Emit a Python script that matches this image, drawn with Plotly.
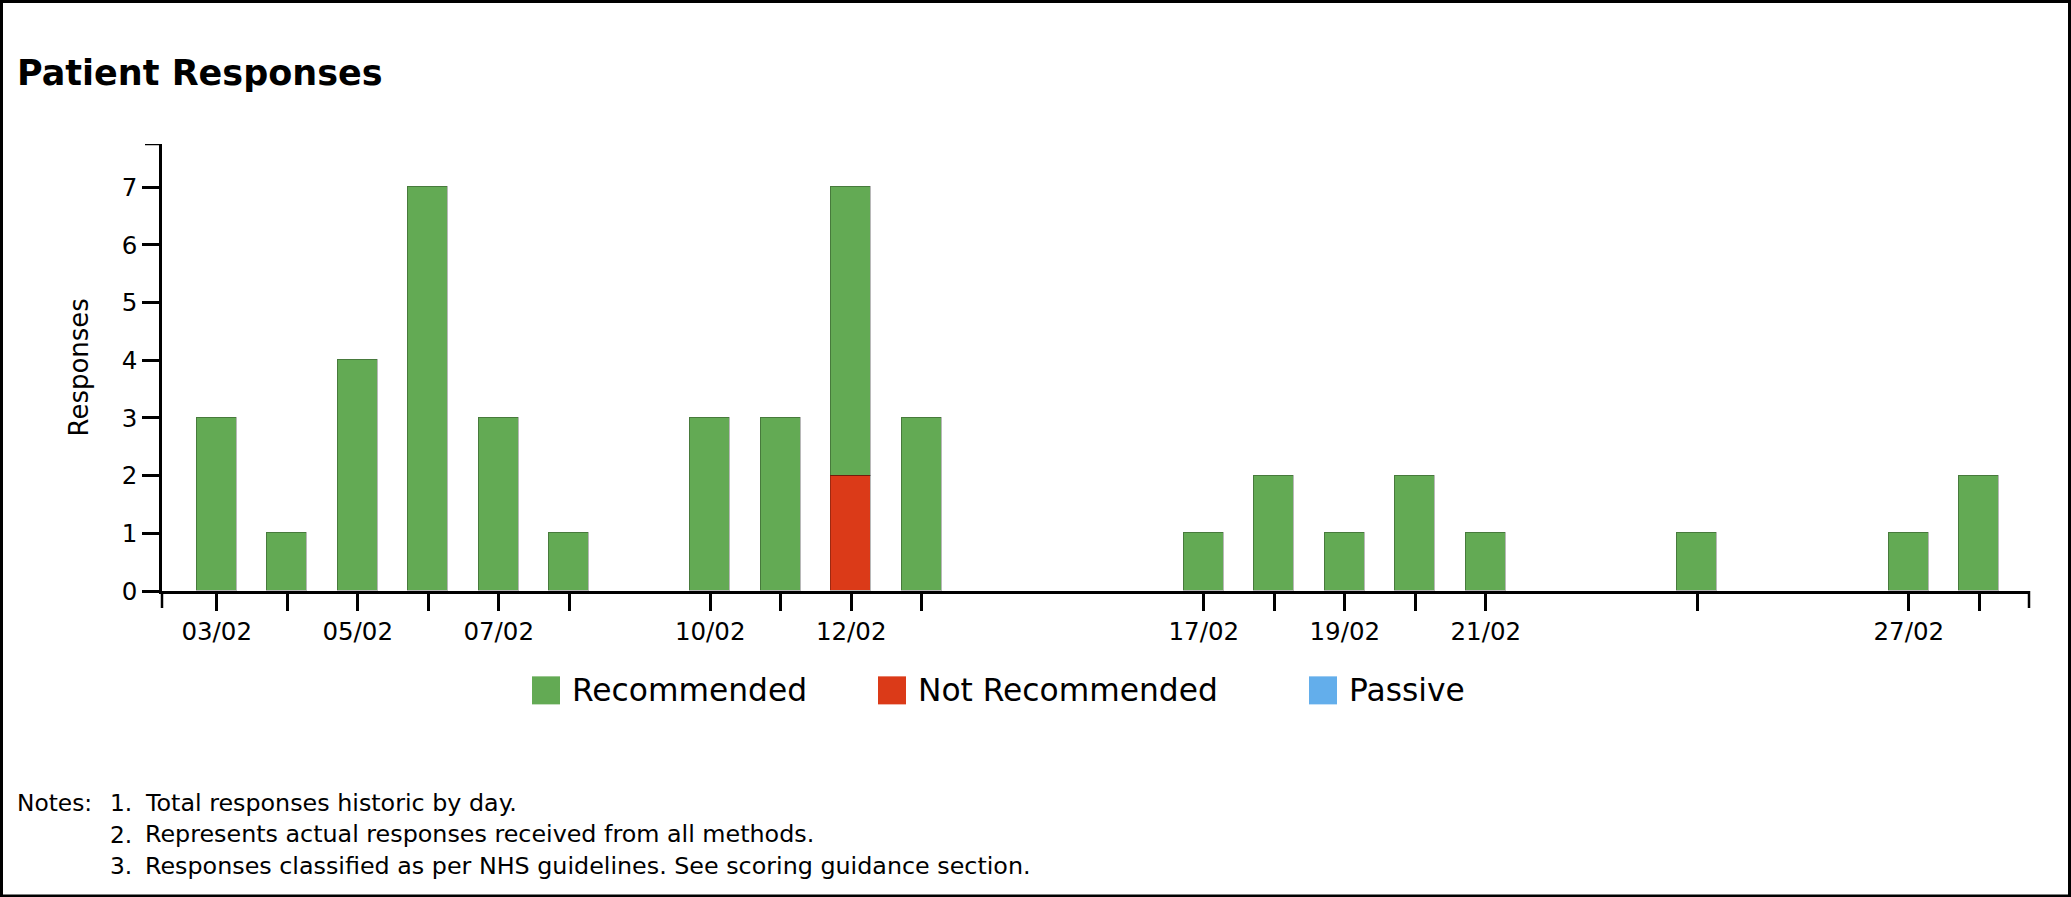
import plotly.graph_objects as go

# ---------------- data ----------------
dates = ["2025-02-03", "2025-02-04", "2025-02-05", "2025-02-06", "2025-02-07",
         "2025-02-08", "2025-02-10", "2025-02-11", "2025-02-12", "2025-02-13",
         "2025-02-17", "2025-02-18", "2025-02-19", "2025-02-20", "2025-02-21",
         "2025-02-24", "2025-02-27", "2025-02-28"]
tick_labels = ["03/02", "", "05/02", "", "07/02", "", "10/02", "", "12/02", "",
               "17/02", "", "19/02", "", "21/02", "", "27/02", ""]
recommended = [3, 1, 4, 7, 3, 1, 3, 3, 5, 3, 1, 2, 1, 2, 1, 1, 1, 2]
not_recommended = [0, 0, 0, 0, 0, 0, 0, 0, 2, 0, 0, 0, 0, 0, 0, 0, 0, 0]
passive = [0, 0, 0, 0, 0, 0, 0, 0, 0, 0, 0, 0, 0, 0, 0, 0, 0, 0]
series_names = ["Recommended", "Not Recommended", "Passive"]
y_ticks = [0, 1, 2, 3, 4, 5, 6, 7]
title_text = "Patient Responses"
y_title = "Responses"
notes_label = "Notes:"
notes = ["Total responses historic by day.",
         "Represents actual responses received from all methods.",
         "Responses classified as per NHS guidelines. See scoring guidance section."]

# ---------------- style ----------------
W, H = 2071, 897
L, R, T, B = 162, 2029, 144, 590.7
PW, PH = R - L, B - T
FONT = "DejaVu Sans"
colors = {"Recommended": "#63AA54", "Not Recommended": "#DB3A18", "Passive": "#63AEEB"}
bar_width_ms = 0.567 * 86400000
x_range = ["2025-02-02 05:23", "2025-02-28 16:55"]
y_range = [0, 7.75]


def px(xp):
    return (xp - L) / PW


def py(yp):
    return (B - yp) / PH


def nz(vals):
    return [v if v else None for v in vals]


fig = go.Figure()
series = {"Recommended": recommended, "Not Recommended": not_recommended, "Passive": passive}
for name in ["Not Recommended", "Passive", "Recommended"]:
    fig.add_trace(go.Bar(
        x=dates, y=nz(series[name]), name=name, width=bar_width_ms,
        marker=dict(color=colors[name], line=dict(color="rgba(0,0,0,0.28)", width=1.5)),
        showlegend=False,
    ))

shapes = []
annotations = []

# end ticks on axes
tick_style = dict(color="black", width=2.5)
shapes.append(dict(type="line", xref="paper", yref="paper", x0=0, x1=0,
                   ysizemode="pixel", yanchor=0, y0=0, y1=-17, line=tick_style))
shapes.append(dict(type="line", xref="paper", yref="paper", x0=1, x1=1,
                   ysizemode="pixel", yanchor=0, y0=0, y1=-17, line=tick_style))
shapes.append(dict(type="line", xref="paper", yref="y", y0=y_range[1], y1=y_range[1],
                   xsizemode="pixel", xanchor=0, x0=0, x1=-17, line=tick_style))

# border
shapes.append(dict(type="rect", xref="paper", yref="paper",
                   x0=px(1.5), x1=px(W - 1.5), y0=py(H - 1.5), y1=py(1.5),
                   line=dict(color="black", width=3), fillcolor="rgba(0,0,0,0)", layer="above"))

# manual legend
legend_sq_x = [532, 878, 1309]
legend_y = 690
for i, name in enumerate(series_names):
    x0 = legend_sq_x[i]
    shapes.append(dict(type="rect", xref="paper", yref="paper",
                       x0=px(x0), x1=px(x0 + 28), y0=py(legend_y + 14), y1=py(legend_y - 14),
                       line=dict(width=0), fillcolor=colors[name]))
    annotations.append(dict(text=name, xref="paper", yref="paper",
                            x=px(x0 + 38), y=py(legend_y), xanchor="left", yanchor="middle",
                            showarrow=False, font=dict(family=FONT, size=31.3, color="black")))

# y-axis title
annotations.append(dict(text=y_title, xref="paper", yref="paper", x=px(78), y=0.5,
                        textangle=-90, showarrow=False, xanchor="center", yanchor="middle",
                        font=dict(family=FONT, size=26, color="black")))

# notes
note_ys = [802.5, 834, 865.5]
annotations.append(dict(text=notes_label, xref="paper", yref="paper", x=px(15), y=py(note_ys[0]),
                        xanchor="left", yanchor="middle", showarrow=False,
                        font=dict(family=FONT, size=23.3, color="black")))
for i, note in enumerate(notes):
    annotations.append(dict(text=f"{i + 1}.", xref="paper", yref="paper", x=px(108), y=py(note_ys[i]),
                            xanchor="left", yanchor="middle", showarrow=False,
                            font=dict(family=FONT, size=23.3, color="black")))
    annotations.append(dict(text=note, xref="paper", yref="paper", x=px(143), y=py(note_ys[i]),
                            xanchor="left", yanchor="middle", showarrow=False,
                            font=dict(family=FONT, size=23.8, color="black")))

fig.update_layout(
    width=W, height=H, autosize=False,
    margin=dict(l=L, r=W - R, t=T, b=H - B, pad=0),
    paper_bgcolor="white", plot_bgcolor="white",
    barmode="stack", bargap=0,
    font=dict(family=FONT, color="black"),
    title=dict(text=f"<b>{title_text}</b>", xref="container", yref="container",
               x=17 / W, xanchor="left", y=1 - 73 / H, yanchor="middle",
               font=dict(family=FONT, size=35, color="black")),
    xaxis=dict(type="date", range=x_range, tickmode="array", tickvals=dates, ticktext=tick_labels,
               ticks="outside", ticklen=17, tickwidth=2.5, tickcolor="black",
               showline=True, linecolor="black", linewidth=2.5, showgrid=False, zeroline=False,
               tickfont=dict(family=FONT, size=24.5, color="black"), fixedrange=True),
    yaxis=dict(range=y_range, tickmode="array", tickvals=y_ticks,
               ticks="outside", ticklen=17, tickwidth=2.5, tickcolor="black",
               showline=True, linecolor="black", linewidth=2.5, showgrid=False, zeroline=False,
               tickfont=dict(family=FONT, size=24.5, color="black"), fixedrange=True),
    shapes=shapes, annotations=annotations, showlegend=False,
)

fig.write_html("out.html", include_plotlyjs=True,
               config={"displayModeBar": False},
               post_script="document.body.style.margin='0';document.body.style.overflow='hidden';")
